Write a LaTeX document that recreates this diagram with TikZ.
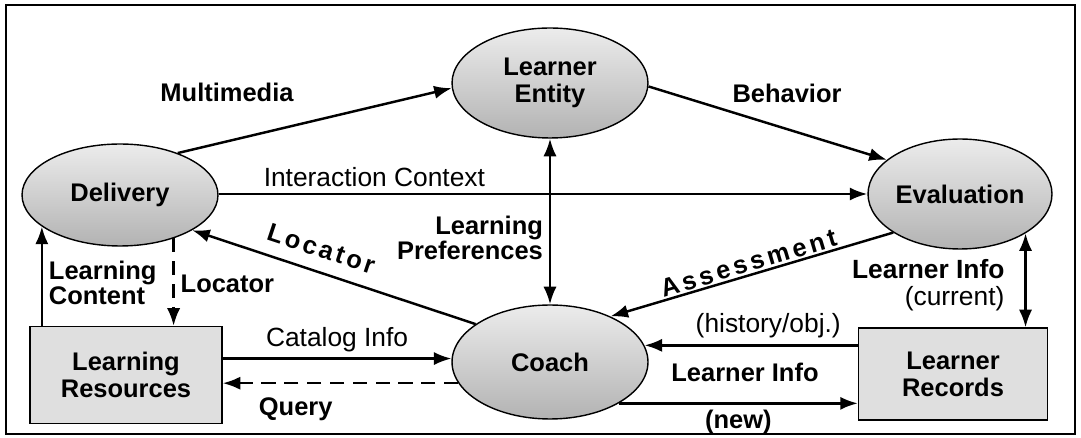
\documentclass[tikz,border=0pt]{standalone}
\usepackage{fontspec}
\setmainfont{Liberation Sans}
\usetikzlibrary{arrows,arrows.meta,positioning,shapes}
\tikzstyle{proc}=[ellipse,draw=black,thick,top color=gray!15,bottom color=gray!60,
inner sep=0pt,align=center,font=\fontsize{14.5}{15.5}\selectfont\bfseries]
\tikzstyle{store}=[rectangle,draw=black,thick,fill=gray!25,
inner sep=0pt,align=center,font=\fontsize{14.5}{15.5}\selectfont\bfseries]
\tikzstyle{flow}=[line width=1.4pt]
\tikzstyle{dflow}=[line width=1.4pt,dash pattern=on 8pt off 5pt]
\tikzstyle{blbl}=[font=\fontsize{14.5}{14}\selectfont\bfseries]
\tikzstyle{rlbl}=[font=\fontsize{15}{15}\selectfont]

\begin{document}
\begin{tikzpicture}[x=0.02cm,y=-0.02cm,>={Latex[length=10pt,width=7.5pt]}]
  \useasboundingbox (0,0) rectangle (1081,438);
  \draw[line width=1.3pt] (6,5) rectangle (1075,434);

  \node[proc,minimum width=3.92cm,minimum height=2.2cm] (entity) at (550,83) {Learner\\Entity};
  \node[proc,minimum width=3.92cm,minimum height=2.04cm] (delivery) at (120,195) {Delivery};
  \node[proc,minimum width=3.68cm,minimum height=2.2cm] (evaluation) at (960,194) {Evaluation};
  \node[proc,minimum width=3.92cm,minimum height=2.28cm] (coach) at (550,362) {Coach};
  \node[store,minimum width=3.84cm,minimum height=1.94cm] (resources) at (126,375) {Learning\\Resources};
  \node[store,minimum width=3.78cm,minimum height=1.84cm] (records) at (953,374) {Learner\\Records};

  \path[flow,->] (delivery.36) edge (entity.183);
  \node[blbl] (multimedia) at (227,92) {Multimedia};
  \path[flow,->] (entity.-2) edge (evaluation.155);
  \node[blbl] (behavior) at (787,93) {Behavior};
  \path[flow,->] (delivery.east |- evaluation.west) edge node[rlbl,pos=0.24,above] (interaction) {Interaction Context} (evaluation.west);
  \path[flow,<->] (entity.south) edge node[blbl,left,align=right,pos=0.6] (prefs) {Learning\\Preferences} (coach.north);
  \path[flow,<-] (delivery.-26) edge node[blbl,sloped,above=4pt,pos=0.43] (locator) {\addfontfeatures{LetterSpace=12}Locator} (coach.153);
  \path[flow,<-] (coach.37) edge node[blbl,sloped,above,pos=0.5,inner sep=1pt] (assessment) {\addfontfeatures{LetterSpace=14}Assessment} (evaluation.210);

  \path[flow,->] (delivery.202 |- resources.north) edge node[blbl,right,align=left,pos=0.43] (content) {Learning\\Content} (delivery.202);
  \path[dflow,->] (delivery.-39) edge node[blbl,right,pos=0.52] (locator2) {Locator} (delivery.-39 |- resources.north);
  \path[flow,->] (resources.east |- coach.178) edge node[rlbl,above,pos=0.5] (catalog) {Catalog Info} (coach.178);
  \path[dflow,->] (coach.193) edge node[blbl,below=4pt,pos=0.69] (query) {Query} (coach.193 -| resources.east);

  \path[flow,->] (records.west |- coach.10) edge node[rlbl,above,pos=0.42] (history) {(history/obj.)} (coach.10);
  \node[blbl] (info) at (745,372) {Learner Info};
  \path[flow,->] (coach.-31) edge node[blbl,below,pos=0.5] (new) {(new)} (coach.-31 -| records.west);
  \path[flow,<->] (evaluation.-31) edge node[rlbl,left=8pt,align=right,pos=0.55] (current) {\bfseries Learner Info\\(current)} (evaluation.-31 |- records.north);
\end{tikzpicture}
\end{document}
